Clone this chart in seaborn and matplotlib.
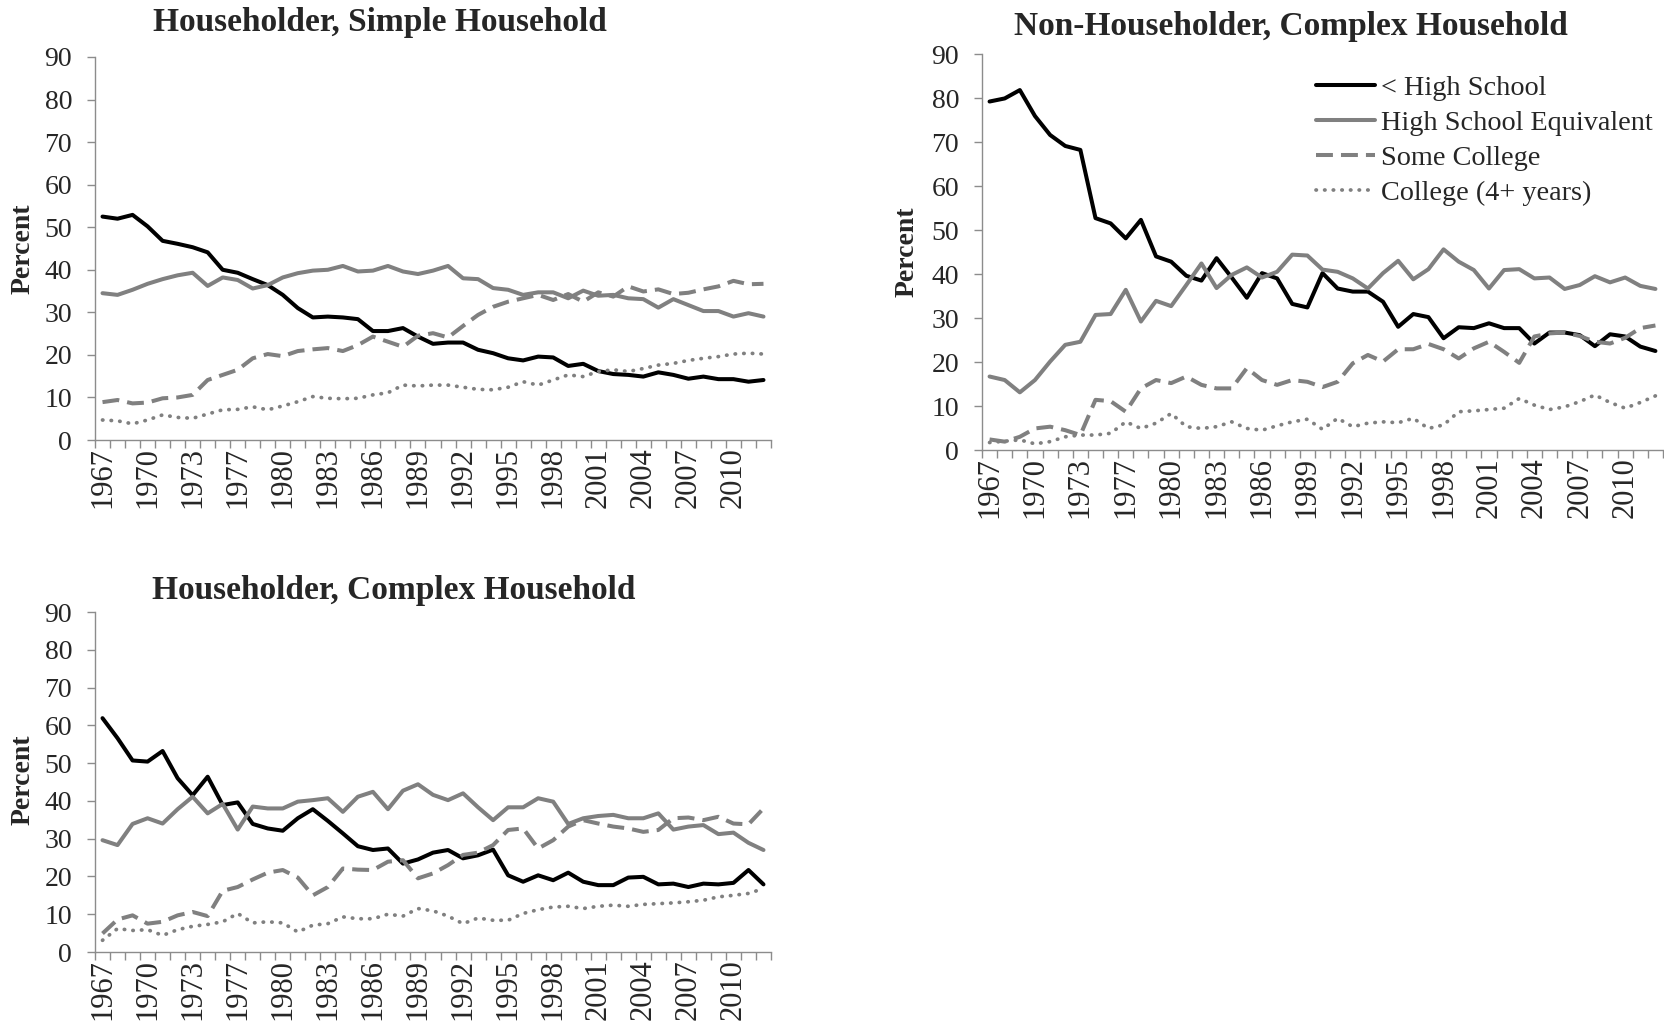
import numpy as np
import pandas as pd
import matplotlib
matplotlib.use('Agg')
import matplotlib.pyplot as plt
import seaborn as sns

# Survey years (1974 not in the series)
years = list(range(1967, 1974)) + list(range(1975, 2013))
levels = ['< High School', 'High School Equivalent', 'Some College', 'College (4+ years)']

# Householder, simple household
lt_hs_simple = [52.5, 52.0, 52.9, 50.2, 46.8, 46.1, 45.3, 44.1, 40.0, 39.3,
                37.8, 36.4, 34.1, 31.0, 28.8, 29.0, 28.8, 28.4, 25.6, 25.6,
                26.3, 24.3, 22.6, 22.9, 22.9, 21.2, 20.4, 19.2, 18.7, 19.6,
                19.4, 17.4, 17.9, 16.2, 15.5, 15.3, 14.9, 15.9, 15.3, 14.4,
                14.9, 14.3, 14.3, 13.7, 14.1]
hs_simple = [34.5, 34.1, 35.3, 36.7, 37.8, 38.7, 39.3, 36.2, 38.2, 37.6,
             35.6, 36.4, 38.2, 39.2, 39.8, 40.0, 40.9, 39.6, 39.8, 40.9,
             39.6, 39.0, 39.8, 40.9, 38.0, 37.8, 35.7, 35.3, 34.1, 34.7,
             34.7, 33.3, 35.1, 33.9, 34.1, 33.3, 33.1, 31.1, 33.1, 31.7,
             30.3, 30.3, 29.0, 29.8, 29.0]
sc_simple = [8.9, 9.4, 8.6, 8.8, 9.8, 10.0, 10.6, 14.1, 15.3, 16.5,
             19.2, 20.2, 19.7, 20.9, 21.3, 21.6, 20.9, 22.3, 24.3, 23.1,
             21.9, 24.5, 25.1, 24.1, 26.8, 29.4, 31.3, 32.5, 33.3, 34.1,
             32.9, 34.3, 32.5, 34.7, 33.7, 36.1, 34.9, 35.4, 34.3, 34.6,
             35.4, 36.1, 37.4, 36.6, 36.7]
col_simple = [4.7, 4.5, 3.8, 4.7, 5.9, 5.3, 5.1, 6.1, 7.1, 7.2,
              7.8, 7.1, 8.0, 9.0, 10.2, 9.8, 9.7, 9.8, 10.6, 11.1,
              12.9, 12.7, 12.9, 12.9, 12.4, 11.9, 11.8, 12.4, 13.7, 12.9,
              14.1, 15.3, 14.9, 16.1, 16.5, 16.1, 16.8, 17.6, 18.0, 18.7,
              19.2, 19.6, 20.2, 20.4, 20.2]

# Non-householder, complex household
lt_hs_nonhh = [79.2, 79.9, 81.8, 75.9, 71.6, 69.1, 68.2, 52.7, 51.5, 48.1,
               52.3, 44.0, 42.8, 39.6, 38.5, 43.6, 39.2, 34.6, 40.2, 39.0,
               33.2, 32.4, 40.2, 36.7, 36.0, 36.0, 33.7, 28.0, 30.9, 30.2,
               25.4, 27.9, 27.7, 28.8, 27.7, 27.7, 24.2, 26.7, 26.7, 26.1,
               23.6, 26.3, 25.8, 23.5, 22.5]
hs_nonhh = [16.7, 15.9, 13.1, 15.9, 20.1, 23.9, 24.6, 30.7, 30.9, 36.4,
            29.2, 33.9, 32.7, 37.5, 42.4, 36.8, 39.8, 41.5, 39.2, 40.5,
            44.4, 44.2, 41.0, 40.5, 39.0, 36.7, 40.2, 43.0, 38.8, 41.1,
            45.6, 42.8, 40.9, 36.7, 40.9, 41.1, 39.0, 39.2, 36.6, 37.5,
            39.5, 38.1, 39.2, 37.3, 36.6]
sc_nonhh = [2.4, 1.9, 3.0, 4.9, 5.3, 4.5, 3.4, 11.4, 11.1, 8.7,
            14.0, 15.9, 15.2, 16.7, 14.8, 14.0, 14.0, 18.6, 15.9, 14.8,
            15.9, 15.5, 14.3, 15.5, 19.7, 21.6, 20.1, 22.9, 22.9, 24.1,
            22.9, 20.8, 23.1, 24.6, 22.3, 19.8, 25.8, 26.5, 26.7, 25.9,
            24.6, 24.2, 25.5, 27.7, 28.3]
col_nonhh = [1.7, 2.0, 2.3, 1.4, 1.9, 3.0, 3.4, 3.4, 3.8, 6.4,
             4.9, 6.1, 8.3, 5.3, 4.9, 5.3, 6.4, 4.9, 4.5, 5.5,
             6.4, 7.0, 4.7, 7.2, 5.3, 6.1, 6.4, 6.2, 7.2, 4.9,
             5.7, 8.7, 8.9, 9.2, 9.5, 11.7, 10.2, 9.2, 9.8, 11.0,
             12.5, 10.8, 9.5, 10.8, 12.3]

# Householder, complex household
lt_hs_hh = [61.9, 56.6, 50.7, 50.4, 53.2, 46.0, 41.5, 46.4, 38.9, 39.6,
            33.9, 32.7, 32.1, 35.4, 37.8, 34.7, 31.4, 28.0, 27.0, 27.4,
            23.4, 24.5, 26.3, 27.0, 24.8, 25.6, 27.1, 20.3, 18.6, 20.3,
            19.0, 21.0, 18.6, 17.7, 17.7, 19.7, 19.9, 17.9, 18.1, 17.2,
            18.1, 17.9, 18.3, 21.7, 17.9]
hs_hh = [29.6, 28.3, 33.9, 35.4, 34.0, 37.8, 41.1, 36.7, 39.2, 32.4,
         38.5, 38.0, 38.0, 39.8, 40.2, 40.7, 37.1, 41.1, 42.4, 37.8,
         42.7, 44.4, 41.6, 40.2, 42.0, 38.3, 34.9, 38.3, 38.3, 40.7,
         39.8, 33.9, 35.4, 36.0, 36.3, 35.4, 35.4, 36.7, 32.4, 33.2,
         33.6, 31.2, 31.6, 28.9, 27.0]
sc_hh = [4.9, 8.6, 9.7, 7.5, 8.0, 9.7, 10.6, 9.5, 16.2, 17.2,
         19.2, 21.0, 21.7, 19.7, 15.0, 17.2, 22.1, 21.8, 21.7, 23.9,
         24.3, 19.5, 20.8, 23.0, 25.7, 26.3, 28.3, 32.3, 32.7, 27.4,
         29.6, 33.2, 34.9, 34.0, 33.2, 32.7, 31.8, 32.3, 35.4, 35.6,
         34.9, 35.8, 34.0, 33.8, 38.0]
col_hh = [3.1, 6.2, 5.7, 5.9, 4.4, 5.9, 6.8, 7.3, 8.0, 10.2,
          7.7, 8.0, 7.7, 5.3, 7.1, 7.5, 9.3, 8.8, 8.8, 10.0,
          9.5, 11.5, 10.9, 9.5, 7.5, 9.0, 8.4, 8.4, 10.2, 11.2,
          11.9, 12.1, 11.5, 12.1, 12.4, 12.1, 12.6, 12.8, 13.0, 13.3,
          13.7, 14.6, 15.0, 15.5, 16.8]


def long_df(*cols):
    frames = []
    for name, vals in zip(levels, cols):
        frames.append(pd.DataFrame({'pos': np.arange(len(years)), 'year': years,
                                    'level': name, 'pct': vals}))
    return pd.concat(frames, ignore_index=True)


sns.set_style('white')
plt.rcParams['font.family'] = ['Liberation Serif', 'DejaVu Serif']

GRAY = '#808080'
AXC = '#8c8c8c'
palette = {levels[0]: 'black', levels[1]: GRAY, levels[2]: GRAY, levels[3]: GRAY}
dash_map = {levels[0]: '', levels[1]: '', levels[2]: (4.2, 2), levels[3]: (0.1, 2.2)}

W, H = 1664, 1027
fig = plt.figure(figsize=(W / 100, H / 100), dpi=100)


def panel(box, df, title, title_xy, ylab_xy):
    l, t, r, b = box
    ax = fig.add_axes([l / W, 1 - b / H, (r - l) / W, (b - t) / H])
    sns.lineplot(data=df, x='pos', y='pct', hue='level', style='level',
                 palette=palette, dashes=dash_map, linewidth=2.9,
                 legend=False, ax=ax)
    for ln in ax.get_lines():
        ln.set_dash_capstyle('butt')
    ax.get_lines()[3].set_dash_capstyle('round')
    ax.get_lines()[3].set_linewidth(2.7)

    n = len(years)
    ax.set_xlim(-0.5, n - 0.5)
    ax.set_ylim(0, 90)
    ax.set_yticks(range(0, 91, 10))
    ax.set_xticks(range(0, n, 3))
    ax.set_xticklabels([str(y) for y in years[::3]], rotation=90)
    ax.set_xticks(np.arange(-0.5, n, 1), minor=True)
    ax.tick_params(axis='x', which='major', length=0, pad=5, labelsize=22)
    ax.tick_params(axis='x', which='minor', length=5.5, width=1, color=AXC,
                   bottom=True)
    ax.tick_params(axis='y', length=5.5, width=1, color=AXC, pad=11,
                   labelsize=20, left=True)
    for s in ['top', 'right']:
        ax.spines[s].set_visible(False)
    for s in ['left', 'bottom']:
        ax.spines[s].set_color(AXC)
        ax.spines[s].set_linewidth(1)
    ax.set_xlabel('')
    ax.set_ylabel('')
    fig.text(title_xy[0] / W, 1 - title_xy[1] / H, title, ha='center',
             va='center', fontsize=24, fontweight='bold')
    fig.text(ylab_xy[0] / W, 1 - ylab_xy[1] / H, 'Percent', ha='center',
             va='center', rotation=90, fontsize=20, fontweight='bold')
    return ax


ax1 = panel((95, 57, 771, 440), long_df(lt_hs_simple, hs_simple, sc_simple, col_simple),
            'Householder, Simple Household', (380, 23), (23, 249))
ax2 = panel((982, 54, 1663, 450), long_df(lt_hs_nonhh, hs_nonhh, sc_nonhh, col_nonhh),
            'Non-Householder, Complex Household', (1291, 26), (907, 252))
ax3 = panel((95, 612, 771, 952), long_df(lt_hs_hh, hs_hh, sc_hh, col_hh),
            'Householder, Complex Household', (394, 591), (23, 780))

ax2.legend(ax2.get_lines()[:4], levels, loc='upper left',
           bbox_to_anchor=(1316 / W, 1 - 75 / H), bbox_transform=fig.transFigure,
           frameon=False, fontsize=20.3, handlelength=2.1, handletextpad=0.2,
           labelspacing=0.33, borderpad=0, borderaxespad=0)

fig.savefig('out.png', dpi=100)
